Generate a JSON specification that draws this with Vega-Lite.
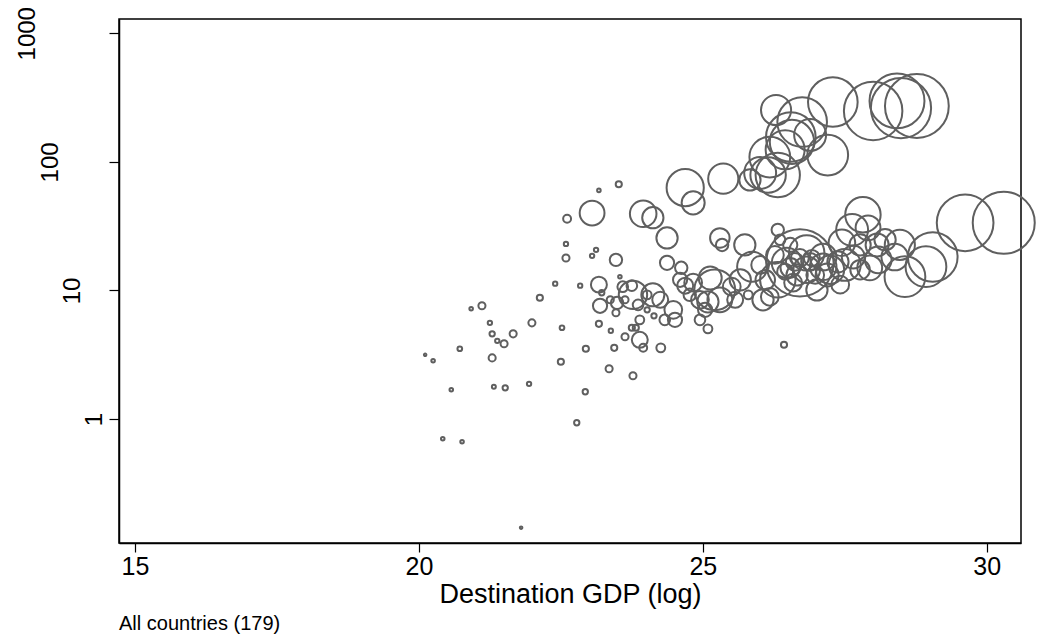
{
  "$schema": "https://vega.github.io/schema/vega-lite/v6.json",
  "width": 902,
  "height": 524,
  "autosize": {"type": "none"},
  "padding": {"left": 119, "top": 19, "right": 19, "bottom": 94},
  "background": "white",
  "title": {"text": "All countries (179)", "orient": "bottom", "anchor": "start", "frame": "group", "fontSize": 20, "fontWeight": "normal", "font": "Liberation Sans", "color": "black", "offset": 7},
  "data": {"values": [
    {"gdp_log": 27.29, "flow": 292, "weight": 784},
    {"gdp_log": 28.00, "flow": 249, "weight": 1089},
    {"gdp_log": 28.42, "flow": 298, "weight": 961},
    {"gdp_log": 28.49, "flow": 262, "weight": 1156},
    {"gdp_log": 28.77, "flow": 272, "weight": 1296},
    {"gdp_log": 26.29, "flow": 253, "weight": 289},
    {"gdp_log": 26.75, "flow": 204, "weight": 784},
    {"gdp_log": 26.55, "flow": 156, "weight": 784},
    {"gdp_log": 26.57, "flow": 143, "weight": 625},
    {"gdp_log": 27.20, "flow": 113, "weight": 529},
    {"gdp_log": 26.18, "flow": 109, "weight": 529},
    {"gdp_log": 26.01, "flow": 82, "weight": 324},
    {"gdp_log": 26.32, "flow": 79, "weight": 625},
    {"gdp_log": 26.15, "flow": 79, "weight": 400},
    {"gdp_log": 25.36, "flow": 74, "weight": 289},
    {"gdp_log": 24.69, "flow": 63, "weight": 441},
    {"gdp_log": 24.83, "flow": 48, "weight": 169},
    {"gdp_log": 23.95, "flow": 39.5, "weight": 225},
    {"gdp_log": 24.12, "flow": 36.8, "weight": 144},
    {"gdp_log": 23.05, "flow": 40, "weight": 196},
    {"gdp_log": 24.37, "flow": 25.6, "weight": 144},
    {"gdp_log": 23.52, "flow": 67, "weight": 12},
    {"gdp_log": 23.17, "flow": 60, "weight": 4},
    {"gdp_log": 22.61, "flow": 36.1, "weight": 20},
    {"gdp_log": 22.59, "flow": 23.0, "weight": 6},
    {"gdp_log": 22.59, "flow": 17.9, "weight": 16},
    {"gdp_log": 23.12, "flow": 20.7, "weight": 6},
    {"gdp_log": 23.05, "flow": 18.6, "weight": 6},
    {"gdp_log": 23.47, "flow": 17.3, "weight": 49},
    {"gdp_log": 26.45, "flow": 124, "weight": 484},
    {"gdp_log": 26.89, "flow": 162, "weight": 324},
    {"gdp_log": 25.83, "flow": 72.4, "weight": 144},
    {"gdp_log": 30.30, "flow": 33.6, "weight": 1225},
    {"gdp_log": 29.62, "flow": 33.6, "weight": 1024},
    {"gdp_log": 29.05, "flow": 18.2, "weight": 784},
    {"gdp_log": 28.93, "flow": 15.3, "weight": 529},
    {"gdp_log": 28.56, "flow": 12.8, "weight": 529},
    {"gdp_log": 28.47, "flow": 22.6, "weight": 289},
    {"gdp_log": 28.07, "flow": 22.6, "weight": 169},
    {"gdp_log": 28.09, "flow": 17.3, "weight": 225},
    {"gdp_log": 27.82, "flow": 38.8, "weight": 400},
    {"gdp_log": 27.63, "flow": 29.6, "weight": 324},
    {"gdp_log": 27.45, "flow": 23.5, "weight": 225},
    {"gdp_log": 27.19, "flow": 13.2, "weight": 169},
    {"gdp_log": 27.12, "flow": 18.2, "weight": 225},
    {"gdp_log": 27.77, "flow": 22.6, "weight": 144},
    {"gdp_log": 27.65, "flow": 18.2, "weight": 169},
    {"gdp_log": 26.71, "flow": 16.4, "weight": 1444},
    {"gdp_log": 26.32, "flow": 29.6, "weight": 49},
    {"gdp_log": 26.83, "flow": 19.6, "weight": 400},
    {"gdp_log": 26.48, "flow": 16.4, "weight": 289},
    {"gdp_log": 26.83, "flow": 14.5, "weight": 225},
    {"gdp_log": 27.12, "flow": 15.3, "weight": 225},
    {"gdp_log": 27.01, "flow": 10.1, "weight": 144},
    {"gdp_log": 26.32, "flow": 12.1, "weight": 400},
    {"gdp_log": 26.06, "flow": 8.46, "weight": 144},
    {"gdp_log": 25.74, "flow": 22.6, "weight": 144},
    {"gdp_log": 25.87, "flow": 15.3, "weight": 289},
    {"gdp_log": 25.80, "flow": 9.25, "weight": 25},
    {"gdp_log": 25.30, "flow": 25.6, "weight": 121},
    {"gdp_log": 25.34, "flow": 22.6, "weight": 49},
    {"gdp_log": 25.51, "flow": 10.7, "weight": 100},
    {"gdp_log": 25.21, "flow": 10.1, "weight": 529},
    {"gdp_log": 25.09, "flow": 8.16, "weight": 144},
    {"gdp_log": 25.13, "flow": 12.5, "weight": 169},
    {"gdp_log": 24.83, "flow": 11.5, "weight": 100},
    {"gdp_log": 24.60, "flow": 12.1, "weight": 64},
    {"gdp_log": 24.37, "flow": 16.4, "weight": 64},
    {"gdp_log": 24.48, "flow": 7.07, "weight": 100},
    {"gdp_log": 24.51, "flow": 5.91, "weight": 64},
    {"gdp_log": 25.09, "flow": 5.03, "weight": 25},
    {"gdp_log": 26.18, "flow": 8.93, "weight": 100},
    {"gdp_log": 26.62, "flow": 16.7, "weight": 100},
    {"gdp_log": 26.54, "flow": 15.0, "weight": 121},
    {"gdp_log": 26.71, "flow": 17.9, "weight": 100},
    {"gdp_log": 26.89, "flow": 16.7, "weight": 100},
    {"gdp_log": 26.45, "flow": 14.0, "weight": 81},
    {"gdp_log": 26.98, "flow": 13.2, "weight": 100},
    {"gdp_log": 27.38, "flow": 16.7, "weight": 144},
    {"gdp_log": 27.94, "flow": 15.0, "weight": 196},
    {"gdp_log": 28.21, "flow": 24.8, "weight": 144},
    {"gdp_log": 27.91, "flow": 30.7, "weight": 196},
    {"gdp_log": 24.62, "flow": 15.0, "weight": 49},
    {"gdp_log": 24.69, "flow": 10.9, "weight": 81},
    {"gdp_log": 23.77, "flow": 9.25, "weight": 256},
    {"gdp_log": 24.12, "flow": 9.25, "weight": 169},
    {"gdp_log": 24.02, "flow": 9.25, "weight": 25},
    {"gdp_log": 23.19, "flow": 7.60, "weight": 64},
    {"gdp_log": 23.49, "flow": 8.01, "weight": 49},
    {"gdp_log": 23.47, "flow": 6.70, "weight": 16},
    {"gdp_log": 23.86, "flow": 7.73, "weight": 36},
    {"gdp_log": 24.02, "flow": 7.07, "weight": 9},
    {"gdp_log": 24.14, "flow": 6.35, "weight": 9},
    {"gdp_log": 23.17, "flow": 11.1, "weight": 81},
    {"gdp_log": 23.22, "flow": 9.6, "weight": 9},
    {"gdp_log": 23.59, "flow": 10.7, "weight": 36},
    {"gdp_log": 23.75, "flow": 10.9, "weight": 36},
    {"gdp_log": 22.40, "flow": 11.3, "weight": 6},
    {"gdp_log": 22.84, "flow": 10.9, "weight": 6},
    {"gdp_log": 22.13, "flow": 8.77, "weight": 12},
    {"gdp_log": 23.54, "flow": 12.8, "weight": 4},
    {"gdp_log": 21.11, "flow": 7.60, "weight": 16},
    {"gdp_log": 20.92, "flow": 7.20, "weight": 4},
    {"gdp_log": 21.25, "flow": 5.60, "weight": 6},
    {"gdp_log": 21.99, "flow": 5.60, "weight": 16},
    {"gdp_log": 22.52, "flow": 5.13, "weight": 7},
    {"gdp_log": 23.17, "flow": 5.50, "weight": 12},
    {"gdp_log": 23.38, "flow": 4.86, "weight": 6},
    {"gdp_log": 21.29, "flow": 4.60, "weight": 9},
    {"gdp_log": 21.66, "flow": 4.60, "weight": 16},
    {"gdp_log": 21.38, "flow": 4.06, "weight": 6},
    {"gdp_log": 21.50, "flow": 3.85, "weight": 16},
    {"gdp_log": 23.63, "flow": 4.36, "weight": 16},
    {"gdp_log": 23.75, "flow": 5.13, "weight": 12},
    {"gdp_log": 23.82, "flow": 5.13, "weight": 12},
    {"gdp_log": 23.89, "flow": 4.13, "weight": 81},
    {"gdp_log": 23.95, "flow": 3.58, "weight": 20},
    {"gdp_log": 23.44, "flow": 3.58, "weight": 12},
    {"gdp_log": 22.94, "flow": 3.52, "weight": 12},
    {"gdp_log": 24.26, "flow": 3.58, "weight": 25},
    {"gdp_log": 20.72, "flow": 3.52, "weight": 7},
    {"gdp_log": 20.11, "flow": 3.16, "weight": 2},
    {"gdp_log": 20.25, "flow": 2.84, "weight": 4},
    {"gdp_log": 21.29, "flow": 2.99, "weight": 16},
    {"gdp_log": 22.50, "flow": 2.79, "weight": 12},
    {"gdp_log": 23.35, "flow": 2.46, "weight": 16},
    {"gdp_log": 23.77, "flow": 2.17, "weight": 16},
    {"gdp_log": 20.57, "flow": 1.69, "weight": 4},
    {"gdp_log": 21.32, "flow": 1.78, "weight": 5},
    {"gdp_log": 21.52, "flow": 1.75, "weight": 9},
    {"gdp_log": 21.94, "flow": 1.88, "weight": 6},
    {"gdp_log": 22.93, "flow": 1.63, "weight": 9},
    {"gdp_log": 22.78, "flow": 0.936, "weight": 9},
    {"gdp_log": 20.42, "flow": 0.703, "weight": 4},
    {"gdp_log": 20.76, "flow": 0.667, "weight": 4},
    {"gdp_log": 21.80, "flow": 0.143, "weight": 2},
    {"gdp_log": 26.43, "flow": 3.78, "weight": 12},
    {"gdp_log": 24.95, "flow": 8.46, "weight": 100},
    {"gdp_log": 25.04, "flow": 7.07, "weight": 64},
    {"gdp_log": 25.30, "flow": 8.46, "weight": 196},
    {"gdp_log": 25.66, "flow": 12.1, "weight": 144},
    {"gdp_log": 26.01, "flow": 15.8, "weight": 100},
    {"gdp_log": 26.27, "flow": 18.9, "weight": 100},
    {"gdp_log": 26.66, "flow": 13.2, "weight": 144},
    {"gdp_log": 26.92, "flow": 17.9, "weight": 81},
    {"gdp_log": 27.24, "flow": 14.5, "weight": 256},
    {"gdp_log": 27.50, "flow": 15.8, "weight": 324},
    {"gdp_log": 27.77, "flow": 14.5, "weight": 121},
    {"gdp_log": 24.77, "flow": 9.25, "weight": 49},
    {"gdp_log": 24.25, "flow": 8.46, "weight": 81},
    {"gdp_log": 24.33, "flow": 5.91, "weight": 36},
    {"gdp_log": 23.89, "flow": 5.91, "weight": 25},
    {"gdp_log": 23.63, "flow": 8.46, "weight": 16},
    {"gdp_log": 23.37, "flow": 8.46, "weight": 16},
    {"gdp_log": 24.95, "flow": 5.91, "weight": 36},
    {"gdp_log": 26.54, "flow": 22.6, "weight": 64},
    {"gdp_log": 26.10, "flow": 12.1, "weight": 121},
    {"gdp_log": 25.57, "flow": 8.46, "weight": 81},
    {"gdp_log": 28.38, "flow": 18.2, "weight": 225},
    {"gdp_log": 27.42, "flow": 11.1, "weight": 100},
    {"gdp_log": 26.59, "flow": 11.5, "weight": 100},
    {"gdp_log": 26.36, "flow": 24.8, "weight": 36}
  ]},
  "mark": {"type": "point", "shape": "circle", "filled": false, "stroke": "#5f5f5f", "strokeWidth": 2, "opacity": 1},
  "encoding": {
    "x": {
      "field": "gdp_log", "type": "quantitative",
      "scale": {"domain": [14.718, 30.604], "nice": false, "zero": false},
      "axis": {"values": [15, 20, 25, 30], "tickSize": 9, "labelFontSize": 25, "labelPadding": 2, "title": "Destination GDP (log)", "titleFontSize": 27, "titleFontWeight": "normal", "titlePadding": 2}
    },
    "y": {
      "field": "flow", "type": "quantitative",
      "scale": {"type": "log", "domain": [0.1087, 1291], "nice": false},
      "axis": {"values": [1, 10, 100, 1000], "format": "d", "tickSize": 10, "labelAngle": -90, "labelAlign": "center", "labelBaseline": "alphabetic", "labelFontSize": 24, "title": null,
        "labelPadding": {"condition": [
          {"test": "datum.value >= 1000", "value": 75},
          {"test": "datum.value >= 100", "value": 52},
          {"test": "datum.value >= 10", "value": 30}
        ], "value": 8}}
    },
    "size": {"field": "weight", "type": "quantitative", "scale": {"type": "linear", "domain": [0, 1000], "range": [0, 3141.6], "zero": true}, "legend": null}
  },
  "config": {
    "font": "Liberation Sans",
    "view": {"stroke": "black", "strokeWidth": 1.5},
    "axis": {"grid": false, "domainColor": "black", "domainWidth": 1.5, "tickColor": "black", "tickWidth": 1.2, "labelColor": "black", "titleColor": "black", "labelFont": "Liberation Sans", "titleFont": "Liberation Sans"}
  }
}
